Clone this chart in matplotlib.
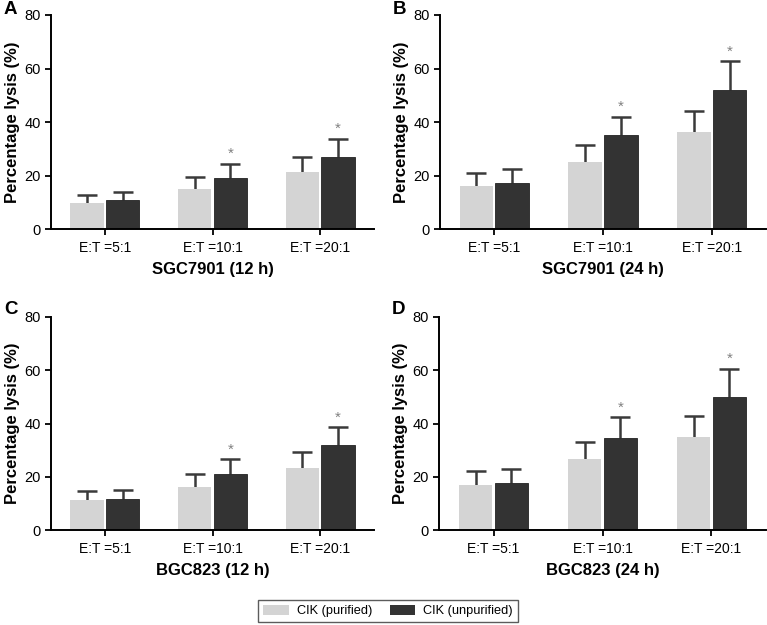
import matplotlib

matplotlib.use("Agg")
import matplotlib.pyplot as plt
import numpy as np
from matplotlib.patches import Patch

plt.rcParams["font.family"] = ["Liberation Sans", "DejaVu Sans"]

GROUPS = ["E:T =5:1", "E:T =10:1", "E:T =20:1"]
SERIES = ["CIK (purified)", "CIK (unpurified)"]

# mean and upper error bar top, per panel
A_PUR = [9.9, 15.0, 21.3]
A_PUR_TOP = [12.7, 19.4, 27.0]
A_UNP = [10.8, 19.2, 27.1]
A_UNP_TOP = [13.7, 24.4, 33.7]

B_PUR = [16.1, 25.0, 36.1]
B_PUR_TOP = [21.1, 31.4, 44.1]
B_UNP = [17.3, 35.0, 52.0]
B_UNP_TOP = [22.6, 42.0, 62.8]

C_PUR = [11.1, 16.2, 23.2]
C_PUR_TOP = [14.6, 21.0, 29.2]
C_UNP = [11.6, 21.1, 32.0]
C_UNP_TOP = [15.1, 26.6, 38.7]

D_PUR = [16.8, 26.8, 34.9]
D_PUR_TOP = [22.0, 33.0, 42.9]
D_UNP = [17.6, 34.5, 49.9]
D_UNP_TOP = [23.0, 42.3, 60.5]

SIG = [False, True, True]  # asterisk over unpurified bar

PANELS = [
    ("A", "SGC7901 (12 h)", A_PUR, A_PUR_TOP, A_UNP, A_UNP_TOP),
    ("B", "SGC7901 (24 h)", B_PUR, B_PUR_TOP, B_UNP, B_UNP_TOP),
    ("C", "BGC823 (12 h)", C_PUR, C_PUR_TOP, C_UNP, C_UNP_TOP),
    ("D", "BGC823 (24 h)", D_PUR, D_PUR_TOP, D_UNP, D_UNP_TOP),
]

LIGHT = "#d4d4d4"
DARK = "#333333"
ERR = "#3a3a3a"

W, H = 767, 625
fig = plt.figure(figsize=(W / 100, H / 100), dpi=100)

# axes boxes in pixels: left, right, top, bottom
BOXES = [
    (51, 374, 15, 229),
    (440, 766, 15, 229),
    (51, 374, 317, 530),
    (439, 766, 317, 530),
]

x = np.arange(len(GROUPS))
bw = 0.31
off = 0.165


def up_errorbar(ax, xs, vals, tops):
    _, caps, _ = ax.errorbar(xs, vals, yerr=[np.zeros(len(vals)), np.array(tops) - vals],
                             fmt="none", ecolor=ERR, elinewidth=1.8, capsize=7,
                             capthick=1.8, zorder=1)
    caps[0].set_visible(False)  # no cap at the bar top


for (letter, title, pur, pur_top, unp, unp_top), (l, r, t, b) in zip(PANELS, BOXES):
    ax = fig.add_axes([l / W, 1 - b / H, (r - l) / W, (b - t) / H])
    pur = np.array(pur)
    unp = np.array(unp)
    ax.bar(x - off, pur, bw, color=LIGHT, zorder=2)
    ax.bar(x + off, unp, bw, color=DARK, edgecolor="#222222", linewidth=0.6, zorder=2)
    up_errorbar(ax, x - off, pur, pur_top)
    up_errorbar(ax, x + off, unp, unp_top)
    for i, s in enumerate(SIG):
        if s:
            ax.text(x[i] + off, unp_top[i] + 1.0, "*", ha="center", va="bottom",
                    fontsize=11, color="#808080")

    ax.set_xlim(-0.5, 2.5)
    ax.set_ylim(0, 80)
    ax.set_yticks([0, 20, 40, 60, 80])
    ax.set_xticks(x)
    ax.set_xticklabels(GROUPS, fontsize=10)
    ax.tick_params(axis="y", labelsize=10.5, width=1.3, length=4)
    ax.tick_params(axis="x", width=1.3, length=4, pad=4.5)
    for sp in ["top", "right"]:
        ax.spines[sp].set_visible(False)
    for sp in ["left", "bottom"]:
        ax.spines[sp].set_linewidth(1.4)
    ax.set_ylabel("Percentage lysis (%)", fontsize=12, fontweight="bold", labelpad=3)
    ax.set_xlabel(title, fontsize=12, fontweight="bold", labelpad=5)
    fig.text((l - 47) / W, 1 - 9 / H if t < 100 else 1 - 310 / H, letter,
             fontsize=13.5, fontweight="bold", ha="left", va="center")

handles = [Patch(facecolor=LIGHT, label=SERIES[0]), Patch(facecolor=DARK, label=SERIES[1])]
fig.legend(handles=handles, loc="center", bbox_to_anchor=(388 / W, 1 - 611 / H), ncol=2,
           fontsize=9.2, frameon=True, fancybox=False, edgecolor="#333333",
           handlelength=2.0, handleheight=0.8, handletextpad=0.6, columnspacing=1.4,
           borderpad=0.4)

fig.savefig("out.png", dpi=100)
